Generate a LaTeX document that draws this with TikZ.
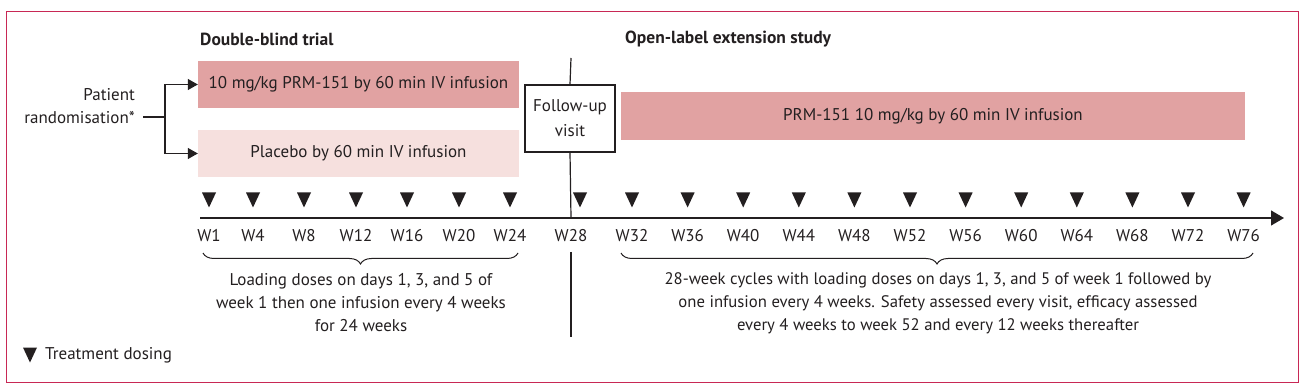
\documentclass[tikz,border=0pt]{standalone}
\usepackage{fontspec}
\setmainfont{PT Sans}
\usetikzlibrary{arrows.meta,decorations.pathreplacing}
\definecolor{framecol}{RGB}{200,40,85}
\definecolor{darkpink}{RGB}{225,162,162}
\definecolor{lightpink}{RGB}{246,224,222}
\definecolor{ink}{RGB}{35,31,32}
\begin{document}
\begin{tikzpicture}[x=1pt,y=-1pt,
  every node/.style={text=ink, font=\fontsize{17}{23}\selectfont},
  bar/.style={minimum width=321pt, minimum height=47pt, inner sep=0pt},
  title/.style={anchor=west, inner sep=0pt, font=\fontsize{17.5}{20}\selectfont\bfseries},
  wk/.style={inner sep=0pt},
  ln/.style={draw=ink, line width=1.2pt},
  curly/.style={draw=ink, line width=1pt, decorate, decoration={brace, mirror, amplitude=11pt}},
  dose/.pic={\fill[ink] (-7,-7.5) -- (7,-7.5) -- (0,7.5) -- cycle;}
]
\useasboundingbox (0,0) rectangle (1306,387);
\draw[framecol, line width=1pt] (6,12) rectangle (1298,382);

% titles
\node[title] (t1) at (200,39) {Double-blind trial};
\node[title] (t2) at (625,39) {Open-label extension study};

% treatment bars
\node[bar, fill=darkpink] (box1) at (358.5,84.5) {10 mg/kg PRM-151 by 60 min IV infusion};
\node[bar, fill=lightpink] (box2) at (358.5,153.5) {Placebo by 60 min IV infusion};
\node[minimum width=624pt, minimum height=48pt, inner sep=0pt, fill=darkpink] (box3) at (933,116) {PRM-151 10 mg/kg by 60 min IV infusion};
\node[draw=ink, line width=1.2pt, align=center, minimum width=90pt, minimum height=67pt, inner sep=0pt, font=\fontsize{17}{25}\selectfont] (fu) at (570,118.5) {Follow-up\\visit};

% randomisation
\node[align=right, anchor=east, inner sep=0pt] (rand) at (135,106) {Patient\\randomisation*};
\coordinate (r0) at (143,117);
\coordinate (split) at (165,117);
\draw[ln] (r0) -- (split);
\draw[ln, -{Triangle[length=10pt,width=11pt]}] (split) |- (box1.west);
\draw[ln, -{Triangle[length=10pt,width=11pt]}] (split) |- (box2.west);

% vertical separator
\coordinate (vtop) at (571,58);
\coordinate (vax) at (571,218);
\coordinate (vlow) at (571,252);
\coordinate (vbot) at (571,337);
\draw[ln] (vtop) -- (fu.north);
\draw[ln] (fu.south) -- (vax);
\draw[ln] (vlow) -- (vbot);

% axis
\coordinate (ax0) at (200,218);
\coordinate (ax1) at (1284,218);
\draw[ln, -{Triangle[length=13pt,width=15pt]}] (ax0) -- (ax1);

% weeks and doses
\foreach \x/\w in {209/1,253/4,304/8,356/12,407/16,459/20,510/24,632/32,687.6/36,743.2/40,798.8/44,854.4/48,910/52,965.6/56,1021.2/60,1076.8/64,1132.4/68,1188/72,1243.6/76}{
  \node[wk] (w\w) at (\x,236) {W\w};
  \pic (d\w) at (\x,200) {dose};
}
\node[wk] (w28) at (571,236) {W28};
\pic (d28) at (580,200) {dose};

% braces
\coordinate (b1s) at (203,253);
\coordinate (b1e) at (518,253);
\coordinate (b2s) at (621,253);
\coordinate (b2e) at (1253,253);
\draw[curly] (b1s) -- (b1e);
\draw[curly] (b2s) -- (b2e);

\node[align=center, inner sep=0pt] (txt1) at (361,303) {Loading doses on days 1, 3, and 5 of\\week 1 then one infusion every 4 weeks\\for 24 weeks};
\node[align=center, inner sep=0pt, font=\fontsize{16.7}{23}\selectfont] (txt2) at (938,303) {28-week cycles with loading doses on days 1, 3, and 5 of week 1 followed by\\one infusion every 4 weeks. Safety assessed every visit, efficacy assessed\\every 4 weeks to week 52 and every 12 weeks thereafter};

% legend
\pic (leg) at (30,355) {dose};
\node[anchor=west, inner sep=0pt] (legtxt) at (45,355) {Treatment dosing};
\end{tikzpicture}
\end{document}
